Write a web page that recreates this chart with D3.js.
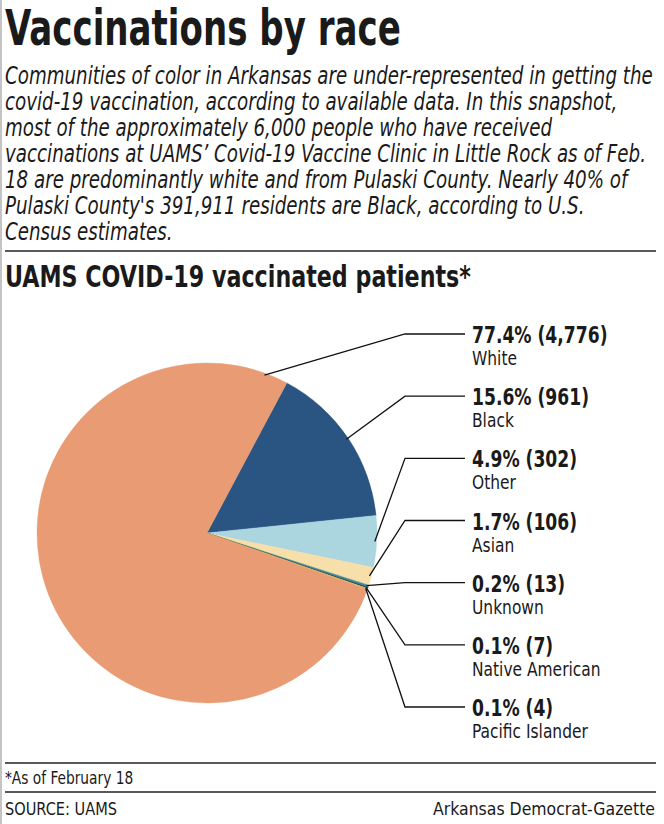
<!DOCTYPE html>
<html>
<head>
<meta charset="utf-8">
<script src="https://cdn.jsdelivr.net/npm/d3@7"></script>
<style>
  body { margin: 0; background: #fff; }
  svg { display: block; }
</style>
</head>
<body>
<script>
"use strict";

// data
const races = ['Black', 'Other', 'Asian', 'Unknown', 'Native American', 'Pacific Islander', 'White'];
const counts = [961, 302, 106, 13, 7, 4, 4776];
const pctLabels = ['15.6%', '4.9%', '1.7%', '0.2%', '0.1%', '0.1%', '77.4%'];
const colors = ['#2a5583', '#abd5df', '#f6dfa8', '#3f8b9a', '#213c55', '#ebcb3a', '#e99b74'];
// order of the labels on the right, top to bottom
const labelOrder = ['White', 'Black', 'Other', 'Asian', 'Unknown', 'Native American', 'Pacific Islander'];

const titleText = 'Vaccinations by race';
const introLines = [
    'Communities of color in Arkansas are under-represented in getting the',
    'covid-19 vaccination, according to available data. In this snapshot,',
    'most of the approximately 6,000 people who have received',
    'vaccinations at UAMS\u2019 Covid-19 Vaccine Clinic in Little Rock as of Feb.',
    '18 are predominantly white and from Pulaski County. Nearly 40% of',
    'Pulaski County\'s 391,911 residents are Black, according to U.S.',
    'Census estimates.'
];
const chartTitle = 'UAMS COVID-19 vaccinated patients*';
const footnote = '*As of February 18';
const source = 'SOURCE: UAMS';
const credit = 'Arkansas Democrat-Gazette';

const W = 664, H = 824;
const condensed = "'Liberation Sans Narrow', 'DejaVu Sans Condensed', 'Arial Narrow', sans-serif";

// no narrow font installed, so squeeze text horizontally with a transform
const squeeze = (sel, f) => {
    sel.each(function () {
	const t = d3.select(this);
	const x = +t.attr('x'), y = +t.attr('y');
	t.attr('x', 0).attr('y', 0)
	    .attr('transform', 'translate(' + x + ',' + y + ') scale(' + f + ',1)');
    });
};

const svg = d3.select('body').append('svg')
    .attr('width', W)
    .attr('height', H);

// thin gray frame at the left edge
svg.append('rect').attr('x', 0).attr('y', 0).attr('width', 2).attr('height', H).attr('fill', '#c4c4c4');

// header
const title = svg.append('text')
    .attr('x', 5).attr('y', 45)
    .style('font-family', condensed)
    .style('font-weight', 'bold')
    .style('font-size', '50px')
    .attr('fill', '#1a1a1a')
    .text(titleText);
squeeze(title, 396 / title.node().getComputedTextLength());

const intro = svg.append('g').selectAll('text')
    .data(introLines)
    .enter()
    .append('text')
    .attr('x', 5)
    .attr('y', (d, i) => 84 + i * 26)
    .style('font-family', condensed)
    .style('font-style', 'italic')
    .style('font-size', '24px')
    .attr('fill', '#1a1a1a')
    .text(d => d);
squeeze(intro, 648 / intro.node().getComputedTextLength());

svg.append('line')
    .attr('x1', 5).attr('x2', 656).attr('y1', 251).attr('y2', 251)
    .attr('stroke', '#222').attr('stroke-width', 1.5);

const ct = svg.append('text')
    .attr('x', 5).attr('y', 287)
    .style('font-family', condensed)
    .style('font-weight', 'bold')
    .style('font-size', '30px')
    .attr('fill', '#1a1a1a')
    .text(chartTitle);
squeeze(ct, 466 / ct.node().getComputedTextLength());

// pie
const cx = 207, cy = 533, R = 170;
const start = 28 * Math.PI / 180;

const pie = d3.pie()
    .sort(null)
    .value(d => d.count)
    .startAngle(start)
    .endAngle(start + 2 * Math.PI);

const slices = pie(races.map((r, i) => ({race: r, count: counts[i], pct: pctLabels[i], color: colors[i]})));
const arc = d3.arc().innerRadius(0).outerRadius(R);

const gPie = svg.append('g').attr('transform', 'translate(' + cx + ',' + cy + ')');
gPie.selectAll('path')
    .data(slices)
    .enter()
    .append('path')
    .attr('d', arc)
    .attr('fill', d => d.data.color)
    .attr('stroke', d => d.data.color)
    .attr('stroke-width', 0.4);

// labels and leader lines
const labelY = d3.scalePoint().domain(labelOrder).range([338, 711]);
const elbowX = 405, lineEnd = 465, textX = 472;

const anchorAngle = (s) => {
    // the big slice gets its line near its end, the rest at the middle
    if (s.endAngle - s.startAngle > Math.PI) return s.endAngle - 8 * Math.PI / 180;
    return (s.startAngle + s.endAngle) / 2;
};

const gLab = svg.append('g');
slices.forEach((s) => {
    const a = anchorAngle(s);
    const ax = cx + Math.sin(a) * (R - 2);
    const ay = cy - Math.cos(a) * (R - 2);
    const y = labelY(s.data.race);
    gLab.append('polyline')
        .attr('points', [[ax, ay], [elbowX, y - 4], [lineEnd, y - 4]].map(p => p.join(',')).join(' '))
        .attr('fill', 'none')
        .attr('stroke', '#111')
        .attr('stroke-width', 1.3);
    const v = gLab.append('text')
        .attr('x', textX).attr('y', y + 5)
        .style('font-family', condensed)
        .style('font-weight', 'bold')
        .style('font-size', '23px')
        .attr('fill', '#1a1a1a')
        .text(s.data.pct + ' (' + d3.format(',')(s.data.count) + ')');
    squeeze(v, 0.83);
    const n = gLab.append('text')
        .attr('x', textX).attr('y', y + 27)
        .style('font-family', condensed)
        .style('font-size', '20px')
        .attr('fill', '#1a1a1a')
        .text(s.data.race);
    squeeze(n, 0.86);
});

// footer
svg.append('line')
    .attr('x1', 5).attr('x2', 656).attr('y1', 763).attr('y2', 763)
    .attr('stroke', '#222').attr('stroke-width', 1.5);
const fn = svg.append('text')
    .attr('x', 5).attr('y', 784)
    .style('font-family', condensed)
    .style('font-size', '18px')
    .attr('fill', '#1a1a1a')
    .text(footnote);
squeeze(fn, 0.85);
svg.append('line')
    .attr('x1', 5).attr('x2', 656).attr('y1', 792).attr('y2', 792)
    .attr('stroke', '#222').attr('stroke-width', 1.5);
const src = svg.append('text')
    .attr('x', 5).attr('y', 815)
    .style('font-family', condensed)
    .style('font-size', '18px')
    .attr('fill', '#1a1a1a')
    .text(source);
squeeze(src, 0.9);
const cr = svg.append('text')
    .attr('x', 655).attr('y', 815)
    .attr('text-anchor', 'end')
    .style('font-family', condensed)
    .style('font-size', '18px')
    .attr('fill', '#1a1a1a')
    .text(credit);
squeeze(cr, 0.97);
</script>
</body>
</html>
